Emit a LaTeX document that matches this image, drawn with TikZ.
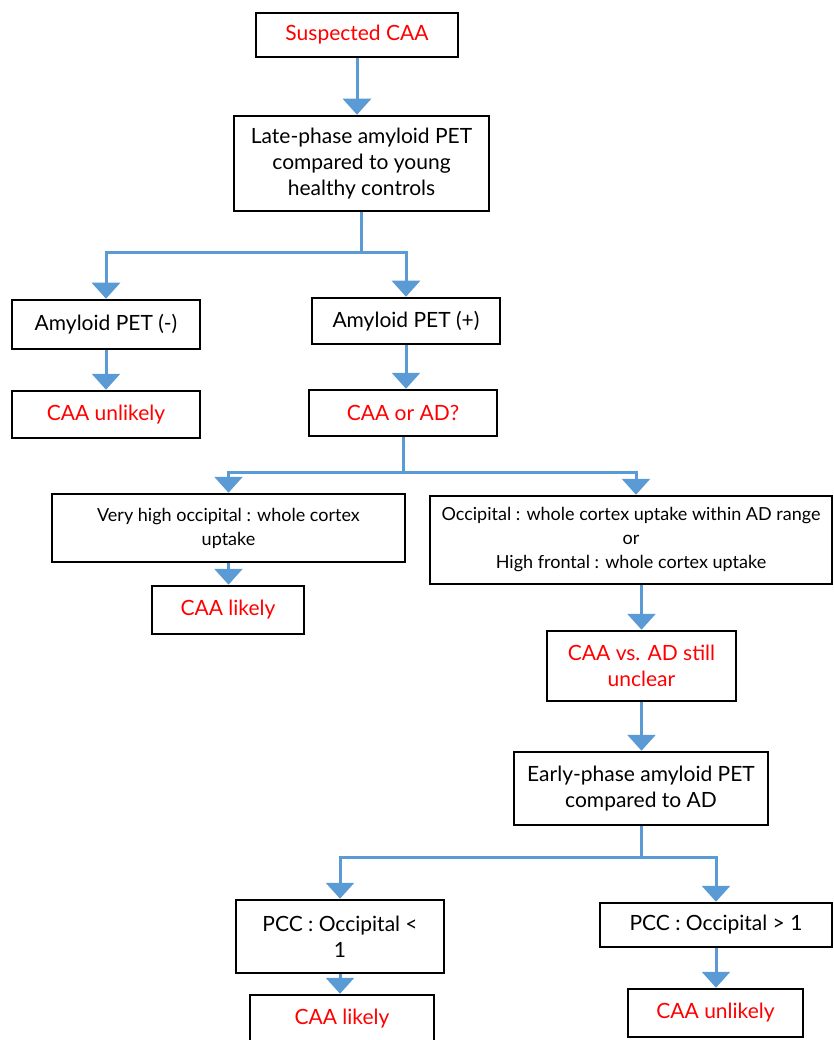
\documentclass[tikz,border=0pt]{standalone}
\usepackage{fontspec}
\setmainfont{Lato}
\usetikzlibrary{arrows.meta,positioning}
\definecolor{flowblue}{HTML}{5B9BD5}
\definecolor{flowred}{HTML}{FF0000}

\begin{document}
\begin{tikzpicture}[x=1pt, y=-1pt,
    box/.style={rectangle, draw, line width=2.5pt, align=center, inner sep=0pt, font=\fontsize{21}{26}\selectfont},
    small/.style={font=\fontsize{18}{24}\selectfont},
    result/.style={box, text=flowred},
    arr/.style={draw=flowblue, line width=3pt, -{Triangle[width=28pt,length=16pt]}, flowblue}]
    \useasboundingbox (0,0) rectangle (834,1040);

    % first stage
    \node[result, minimum width=202, minimum height=44] (susp) at (357,35) {Suspected CAA};
    \node[box, minimum width=255, minimum height=95] (late) at (361.5,163.5) {Late-phase amyloid PET\\compared to young\\healthy controls};
    \node[box, minimum width=188, minimum height=49] (neg) at (106,324.5) {Amyloid PET (-)};
    \node[result, minimum width=188, minimum height=47] (unl1) at (106,414.5) {CAA unlikely};
    \node[box, minimum width=188, minimum height=46] (pos) at (406,321) {Amyloid PET (+)};
    \node[result, minimum width=188, minimum height=46] (caaad) at (403,413) {CAA or AD?};

    % occipital ratio
    \node[box, small, minimum width=353, minimum height=68] (vhigh) at (228.5,528) {Very high occipital : whole cortex\\uptake};
    \node[result, minimum width=152, minimum height=48] (lik1) at (228,610) {CAA likely};
    \node[box, small, minimum width=402, minimum height=88] (occ) at (631,540) {Occipital : whole cortex uptake within AD range\\or\\High frontal : whole cortex uptake};
    \node[result, minimum width=189, minimum height=70] (unclear) at (641.5,666) {CAA vs. AD still\\unclear};

    % early phase
    \node[box, minimum width=254, minimum height=73] (early) at (641,788.5) {Early-phase amyloid PET\\compared to AD};
    \node[box, minimum width=208, minimum height=73] (pccl) at (340,936.5) {PCC : Occipital <\\1};
    \node[box, minimum width=232, minimum height=44] (pccg) at (716,925) {PCC : Occipital > 1};
    \node[result, minimum width=184, minimum height=48] (lik2) at (342,1019) {CAA likely};
    \node[result, minimum width=175, minimum height=48] (unl2) at (715.5,1013) {CAA unlikely};

    \draw[arr] (susp.south) -- (susp.south |- late.north);
    \draw[arr] (late.south) -- ++(0,40) coordinate (split1) -| (neg.north);
    \draw[arr] (split1) -| (pos.north);
    \draw[arr] (neg.south) -- (unl1.north);
    \draw[arr] (pos.south) -- (pos.south |- caaad.north);
    \draw[arr] (caaad.south) -- ++(0,35) coordinate (split2) -| (vhigh.north);
    \draw[arr] (split2) -| ([xshift=5]occ.north);
    \draw[arr] (vhigh.south) -- (vhigh.south |- lik1.north);
    \draw[arr] (unclear.north |- occ.south) -- (unclear.north);
    \draw[arr] (unclear.south) -- (unclear.south |- early.north);
    \draw[arr] (early.south) -- ++(0,31) coordinate (split3) -| (pccl.north);
    \draw[arr] (split3) -| (pccg.north);
    \draw[arr] (pccl.south) -- (pccl.south |- lik2.north);
    \draw[arr] (pccg.south) -- (pccg.south |- unl2.north);
\end{tikzpicture}
\end{document}
